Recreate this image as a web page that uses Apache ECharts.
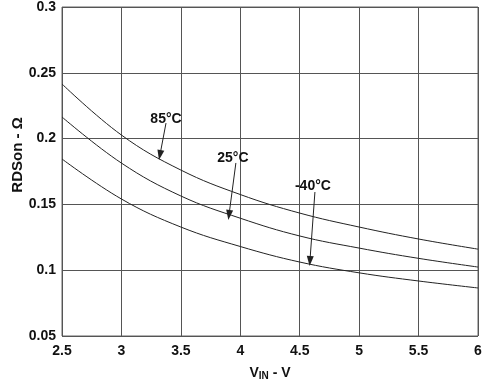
<!DOCTYPE html>
<html><head><meta charset="utf-8">
<script src="https://cdn.jsdelivr.net/npm/echarts@6/dist/echarts.min.js"></script>
<style>html,body{margin:0;padding:0;background:#fff}#c{width:486px;height:386px}</style>
</head><body><div id="c"></div>
<script>
var vin = [2.5, 3, 3.5, 4, 4.5, 5, 5.5, 6];
var r85 = [0.2415, 0.2027, 0.1761, 0.1575, 0.1434, 0.1328, 0.1237, 0.116];
var r25 = [0.2164, 0.1814, 0.1564, 0.1395, 0.126, 0.1168, 0.109, 0.1024];
var rm40 = [0.1845, 0.1541, 0.1328, 0.118, 0.1062, 0.098, 0.0918, 0.0865];
var labels = ['85°C', '25°C', '-40°C'];
var labelPos = [[3.375, 0.2149], [3.938, 0.1853], [4.611, 0.164]];
var arrowStart = [[3.375, 0.2118], [3.963, 0.1815], [4.628, 0.1594]];
var arrowTip = [[3.324, 0.1875], [3.905, 0.142], [4.586, 0.107]];
var yTitle = 'RDSon - Ω';

var font = 'Liberation Sans, Arial, sans-serif';
function pts(ys){ return vin.map(function(x,i){ return [x, ys[i]]; }); }
var curves = [r85, r25, rm40];
var series = curves.map(function(ys, k){
  return {
    type: 'line', data: pts(ys), smooth: 0.4, symbol: 'none',
    lineStyle: {color: '#222', width: 1}, z: 3,
    markLine: {
      silent: true, symbol: ['none', 'triangle'], symbolSize: [7, 10],
      lineStyle: {color: '#222', width: 1, type: 'solid'},
      label: {show: false},
      data: [[{coord: arrowStart[k]}, {coord: arrowTip[k]}]]
    },
    markPoint: {
      silent: true, symbol: 'circle', symbolSize: 0,
      label: {show: true, formatter: labels[k], color: '#111', fontFamily: font, fontWeight: 'bold', fontSize: 14, position: 'inside'},
      data: [{coord: labelPos[k]}]
    }
  };
});

var chart = echarts.init(document.getElementById('c'), null, {renderer: 'canvas'});
chart.setOption({
  animation: false,
  grid: {left: 62, right: 8, top: 7, bottom: 50, show: true, borderColor: '#666', borderWidth: 1,
    containLabel: false, outerBoundsMode: 'none'},
  graphic: [{
    type: 'text', x: 18, y: 155, rotation: Math.PI / 2,
    style: {text: yTitle, fill: '#111', font: 'bold 15px ' + font, align: 'center', verticalAlign: 'middle'}
  }],
  xAxis: {
    type: 'value', min: 2.5, max: 6, interval: 0.5,
    axisLine: {show: false}, axisTick: {show: false},
    splitLine: {show: true, lineStyle: {color: '#555', width: 1}},
    axisLabel: {color: '#111', fontFamily: font, fontWeight: 'bold', fontSize: 14, margin: 8},
    name: '{a|V}{b|IN}{a| - V}', nameLocation: 'middle', nameGap: 29,
    nameTextStyle: {rich: {
      a: {fontFamily: font, fontWeight: 'bold', fontSize: 14, color: '#111'},
      b: {fontFamily: font, fontWeight: 'bold', fontSize: 10, color: '#111', verticalAlign: 'bottom', padding: [6,0,0,0]}
    }}
  },
  yAxis: {
    type: 'value', min: 0.05, max: 0.3, interval: 0.05,
    axisLine: {show: false}, axisTick: {show: false},
    splitLine: {show: true, lineStyle: {color: '#555', width: 1}},
    axisLabel: {color: '#111', fontFamily: font, fontWeight: 'bold', fontSize: 14, margin: 6,
      formatter: function(v){ return String(+v.toFixed(2)); }}
  },
  series: series
});
</script></body></html>
